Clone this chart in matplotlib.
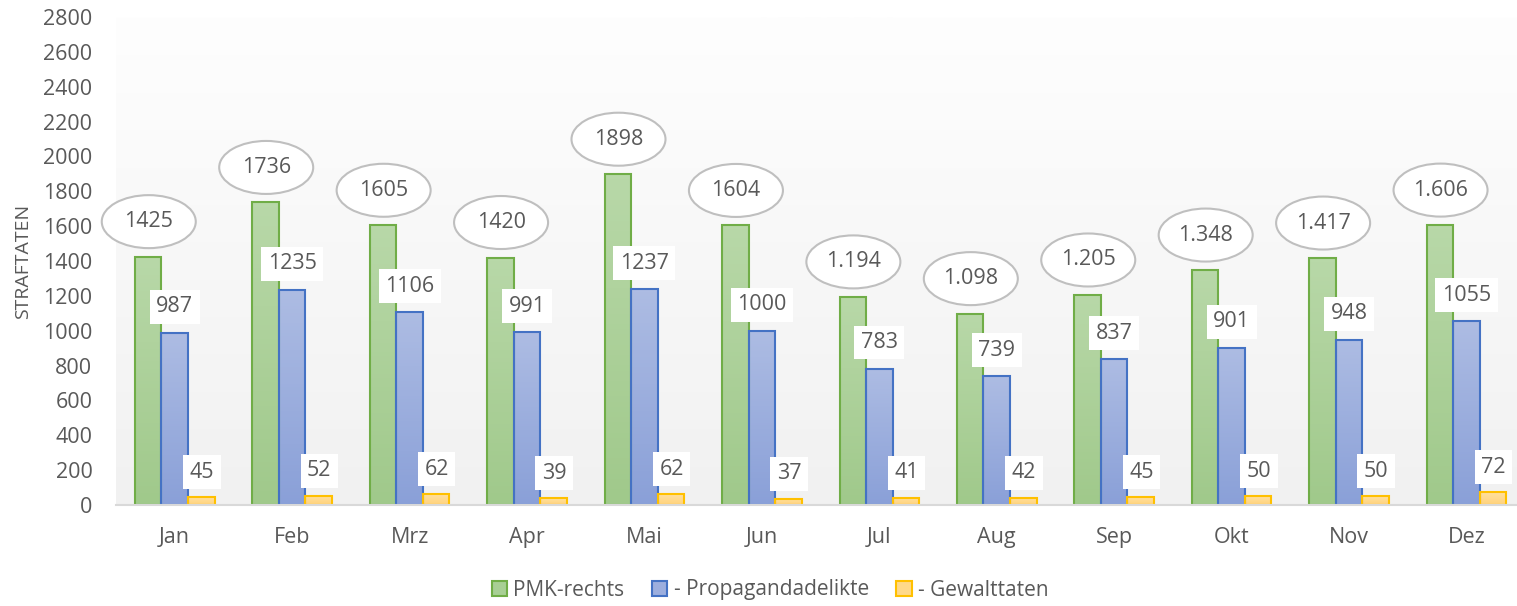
import matplotlib.pyplot as plt
import numpy as np
from matplotlib.patches import Ellipse, Patch
from matplotlib.colors import LinearSegmentedColormap

months = ['Jan', 'Feb', 'Mrz', 'Apr', 'Mai', 'Jun', 'Jul', 'Aug', 'Sep', 'Okt', 'Nov', 'Dez']
pmk_rechts = [1425, 1736, 1605, 1420, 1898, 1604, 1194, 1098, 1205, 1348, 1417, 1606]
pmk_labels = ['1425', '1736', '1605', '1420', '1898', '1604',
              '1.194', '1.098', '1.205', '1.348', '1.417', '1.606']
propaganda = [987, 1235, 1106, 991, 1237, 1000, 783, 739, 837, 901, 948, 1055]
gewalt = [45, 52, 62, 39, 62, 37, 41, 42, 45, 50, 50, 72]
series_names = ['PMK-rechts', '- Propagandadelikte', '- Gewalttaten']

plt.rcParams['font.family'] = ['Open Sans', 'DejaVu Sans']
txt = '#595959'
fs = 15.5

fig = plt.figure(figsize=(15.17, 6.06), dpi=100)
ax = fig.add_axes([116 / 1517, 101 / 606, 1401 / 1517, 488 / 606])
ax.set_xlim(-0.5, 11.43)
ax.set_ylim(0, 2800)

# plot area background gradient
bg = LinearSegmentedColormap.from_list('bg', ['#f1f1f1', '#fefefe'])
ax.imshow(np.linspace(0, 1, 256).reshape(-1, 1), cmap=bg, aspect='auto',
          extent=[-0.5, 11.43, 0, 2800], origin='lower', zorder=0)

x = np.arange(len(months))
w = 0.226
specs = [
    (pmk_rechts, -w, ('#a0c98b', '#b8d8a8'), '#70ad47'),
    (propaganda, 0, ('#8aa0d8', '#adbce3'), '#4472c4'),
    (gewalt, w, ('#ffd27a', '#ffe0a0'), '#ffc000'),
]
for vals, off, (c0, c1), ec in specs:
    cm = LinearSegmentedColormap.from_list('g', [c0, c1])
    bars = ax.bar(x + off, vals, width=w, color='none', edgecolor=ec, linewidth=1.5, zorder=3)
    for b in bars:
        bx, by = b.get_x(), b.get_height()
        im = ax.imshow(np.linspace(0, 1, 64).reshape(-1, 1), cmap=cm, aspect='auto',
                       extent=[bx, bx + w, 0, by], origin='lower', zorder=2)
        im.set_clip_path(b)

ax.set_xlim(-0.5, 11.43)
ax.set_ylim(0, 2800)

px = 1401 / 11.93  # pixels per category
py = 488 / 2800    # pixels per unit
for i in range(len(months)):
    # ellipse labels for PMK-rechts
    yc = pmk_rechts[i] + 35 / py
    ax.add_patch(Ellipse((x[i] - w + 0.005, yc), 94 / px, 53 / py, facecolor='white',
                         edgecolor='#bfbfbf', linewidth=1.5, zorder=5, clip_on=False))
    ax.text(x[i] - w + 0.005, yc, pmk_labels[i], ha='center', va='center', fontsize=fs,
            color=txt, zorder=6, clip_on=False)
    ax.text(x[i], propaganda[i] + 26 / py, str(propaganda[i]), ha='center', va='center',
            fontsize=fs, color=txt, zorder=6,
            bbox=dict(boxstyle='square,pad=0.3', facecolor='white', edgecolor='none'))
    ax.text(x[i] + w + 0.005, gewalt[i] + 25 / py, str(gewalt[i]), ha='center', va='center',
            fontsize=fs, color=txt, zorder=6,
            bbox=dict(boxstyle='square,pad=0.3', facecolor='white', edgecolor='none'))

ax.set_yticks(np.arange(0, 2801, 200))
ax.set_xticks(x)
ax.set_xticklabels(months)
ax.tick_params(axis='both', length=0, labelsize=fs, labelcolor=txt)
ax.tick_params(axis='y', pad=17)
ax.tick_params(axis='x', pad=16)
for s in ['top', 'right', 'left']:
    ax.spines[s].set_visible(False)
ax.spines['bottom'].set_color('#d9d9d9')
ax.spines['bottom'].set_linewidth(1.5)
ax.spines['bottom'].set_zorder(4)
ax.set_ylabel('STRAFTATEN', fontsize=14, color=txt, labelpad=8)

handles = [Patch(facecolor='#a8cf95', edgecolor='#70ad47', linewidth=1.5),
           Patch(facecolor='#9caede', edgecolor='#4472c4', linewidth=1.5),
           Patch(facecolor='#ffd98a', edgecolor='#ffc000', linewidth=1.5)]
fig.legend(handles, series_names, loc='center', bbox_to_anchor=(770 / 1517, 1 - 590 / 606),
           ncol=3, frameon=False, fontsize=15, handlelength=0.75, handleheight=0.75,
           handletextpad=0.3, columnspacing=1.3, labelcolor=txt)

fig.savefig('out.png', dpi=100)
